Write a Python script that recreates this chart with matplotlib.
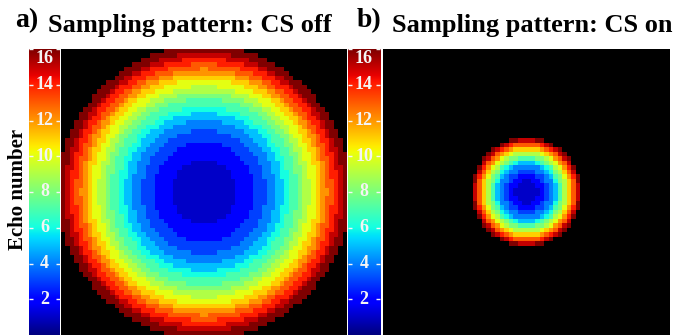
import numpy as np
import matplotlib
matplotlib.use("Agg")
import matplotlib.pyplot as plt

plt.rcParams["font.family"] = ["Liberation Serif", "DejaVu Serif"]
plt.rcParams["font.weight"] = "bold"

# Echo index assigned to each k-space ring
echo_numbers = np.arange(1, 17)

# Outer radius of each echo ring, as a fraction of the half-width of the panel
ring_edge_cs_off = [0.23, 0.35, 0.43, 0.50, 0.555, 0.60, 0.655, 0.70,
                    0.74, 0.785, 0.825, 0.86, 0.895, 0.935, 0.97, 1.02]
ring_edge_cs_on = [0.085, 0.13, 0.16, 0.19, 0.21, 0.225, 0.245, 0.26,
                   0.28, 0.295, 0.31, 0.325, 0.34, 0.35, 0.365, 0.38]

panel_letters = ["a)", "b)"]
panel_titles = ["Sampling pattern: CS off", "Sampling pattern: CS on"]
cbar_label = "Echo number"
cbar_ticks = [2, 4, 6, 8, 10, 12, 14, 16]
cbar_range = (0, 16)
grid_size = 64


def echo_map(edges):
    c = (np.arange(grid_size) + 0.5 - grid_size / 2) / (grid_size / 2)
    xx, yy = np.meshgrid(c, c)
    r = np.hypot(xx, yy)
    idx = np.searchsorted(np.asarray(edges), r)
    out = np.full(r.shape, np.nan)
    inside = idx < len(edges)
    out[inside] = echo_numbers[idx[inside]]
    return np.ma.masked_invalid(out)


fig = plt.figure(figsize=(6.79, 3.35), dpi=100)
W, H = 679.0, 335.0


def frac(x0, x1, y0, y1):
    return [x0 / W, 1 - y1 / H, (x1 - x0) / W, (y1 - y0) / H]


cmap = plt.get_cmap("jet").copy()
cmap.set_bad("black")

layout = [
    dict(cbar=(29, 60), img=(61, 347), letter_x=15, title_x=48),
    dict(cbar=(348, 380), img=(383, 670), letter_x=357, title_x=392),
]
maps = [echo_map(ring_edge_cs_off), echo_map(ring_edge_cs_on)]

top, bottom = 49, 335
label_color = "#f4f4f4"

for i, lay in enumerate(layout):
    # colour bar
    cax = fig.add_axes(frac(lay["cbar"][0], lay["cbar"][1], top, bottom))
    grad = np.linspace(cbar_range[0], cbar_range[1], 512)[:, None]
    cax.imshow(grad, cmap="jet", aspect="auto", origin="lower",
               extent=[0, 1, cbar_range[0], cbar_range[1]],
               vmin=cbar_range[0], vmax=cbar_range[1])
    cax.set_xlim(0, 1)
    cax.set_ylim(*cbar_range)
    cax.set_xticks([])
    cax.set_yticks(cbar_ticks)
    cax.set_yticklabels([])
    cax.tick_params(axis="y", direction="in", colors=label_color, length=3,
                    width=1, left=True, right=True)
    for s in cax.spines.values():
        s.set_visible(False)
    for t in cbar_ticks:
        if t == cbar_range[1]:
            cax.text(0.5, t - 0.05, str(t), color=label_color, ha="center",
                     va="top", fontsize=13, fontweight="bold")
        else:
            cax.text(0.5, t, str(t), color=label_color, ha="center",
                     va="center", fontsize=13, fontweight="bold")

    # sampling pattern
    ax = fig.add_axes(frac(lay["img"][0], lay["img"][1], top, bottom))
    ax.set_facecolor("black")
    ax.imshow(maps[i], cmap=cmap, vmin=cbar_range[0], vmax=cbar_range[1],
              interpolation="nearest", aspect="auto")
    ax.set_xticks([])
    ax.set_yticks([])
    for s in ax.spines.values():
        s.set_visible(False)

    fig.text(lay["letter_x"] / W, 1 - 27 / H, panel_letters[i], fontsize=20,
             fontweight="bold", ha="left", va="baseline")
    fig.text(lay["title_x"] / W, 1 - 32 / H, panel_titles[i], fontsize=19,
             fontweight="bold", ha="left", va="baseline")

fig.text(18 / W, 1 - 189 / H, cbar_label, rotation=90, fontsize=15,
         fontweight="bold", ha="center", va="center")

fig.savefig("out.png", dpi=100, facecolor="white")
